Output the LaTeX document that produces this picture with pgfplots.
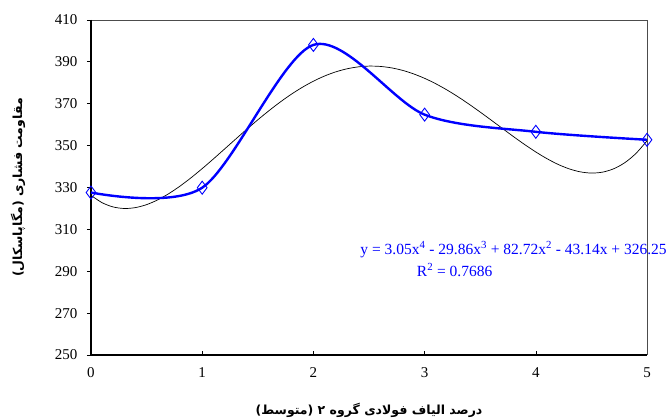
\documentclass[border=0pt]{standalone}
\usepackage{pgfplots}
\pgfplotsset{compat=1.18}
\usepackage{fontspec}
\setmainfont{Liberation Serif}
\newfontfamily\arabicfont[Script=Arabic]{DejaVu Sans}
\TeXXeTstate=1
\begin{document}
\begin{tikzpicture}
\begin{axis}[
  scale only axis,
  width=556pt, height=335pt,
  xmin=0, xmax=5, ymin=250, ymax=410,
  xtick={0,1,2,3,4,5},
  ytick={250,270,290,310,330,350,370,390,410},
  axis line style={draw=none},
  x tick style={black, line width=0.6pt},
  y tick style={black, line width=0.8pt},
  xtick align=inside, ytick align=outside,
  major tick length=4pt,
  tick label style={font=\fontsize{15}{17}\selectfont},
  /pgf/number format/assume math mode=true,
  xtick pos=bottom, ytick pos=left,
  yticklabel style={xshift=-6pt},
  xticklabel style={yshift=-9pt},
  clip=false,
]
% frame
\draw[black!70, line width=0.9pt] (rel axis cs:0,1) -- (rel axis cs:1,1) -- (rel axis cs:1,0);
\draw[black, line width=1.1pt] (rel axis cs:0,1) -- (rel axis cs:0,0) -- (rel axis cs:1,0);
% trend line
\addplot[black, line width=0.7pt, smooth] coordinates {
(0,326.25)(0.1,322.73)(0.2,320.70)(0.3,319.97)(0.4,320.40)(0.5,321.82)
(0.6,324.09)(0.7,327.08)(0.8,330.64)(0.9,334.66)(1.0,339.02)
(1.1,343.61)(1.2,348.33)(1.3,353.07)(1.4,357.77)(1.5,362.32)
(1.6,366.67)(1.7,370.75)(1.8,374.49)(1.9,377.84)(2.0,380.77)
(2.1,383.24)(2.2,385.21)(2.3,386.66)(2.4,387.59)(2.5,387.98)
(2.6,387.83)(2.7,387.16)(2.8,385.97)(2.9,384.28)(3.0,382.14)
(3.1,379.57)(3.2,376.62)(3.3,373.34)(3.4,369.78)(3.5,366.02)
(3.6,362.13)(3.7,358.19)(3.8,354.28)(3.9,350.51)(4.0,346.97)
(4.1,343.78)(4.2,341.04)(4.3,338.90)(4.4,337.47)(4.5,336.90)
(4.6,337.33)(4.7,338.93)(4.8,341.84)(4.9,346.24)(5.0,352.30)};
% data
\addplot[blue, line width=2.4pt, smooth, tension=0.5,
  mark=diamond, mark size=6.5pt,
  mark options={line width=0.9pt, fill=none, solid}] coordinates {
(0,327.6)(1,329.9)(2,398.1)(3,364.8)(4,356.6)(5,352.8)};
% equation
\node[blue, font=\fontsize{15.5}{17}\selectfont, anchor=center] at (axis cs:3.80,300.3)
  {y = 3.05x\textsuperscript{4} - 29.86x\textsuperscript{3} + 82.72x\textsuperscript{2} - 43.14x + 326.25};
\node[blue, font=\fontsize{15.5}{17}\selectfont, anchor=center] at (axis cs:3.27,290.6)
  {R\textsuperscript{2} = 0.7686};
% labels
\node[font=\arabicfont\bfseries\fontsize{12.5}{14}\selectfont] at ([yshift=-55pt]rel axis cs:0.5,0)
  {\beginR درصد الیاف فولادی گروه ۲ (متوسط)\endR};
\node[font=\arabicfont\bfseries\fontsize{12.5}{14}\selectfont, rotate=90] at ([xshift=-73pt]rel axis cs:0,0.5)
  {\beginR مقاومت فشاری (مگاپاسکال)\endR};
\end{axis}
\pgfresetboundingbox
\path (current axis.south west) ++(-91pt,-65pt) coordinate (bl);
\path (current axis.north east) ++(20pt,20pt) coordinate (tr);
\path (bl) rectangle (tr);
\end{tikzpicture}
\end{document}
